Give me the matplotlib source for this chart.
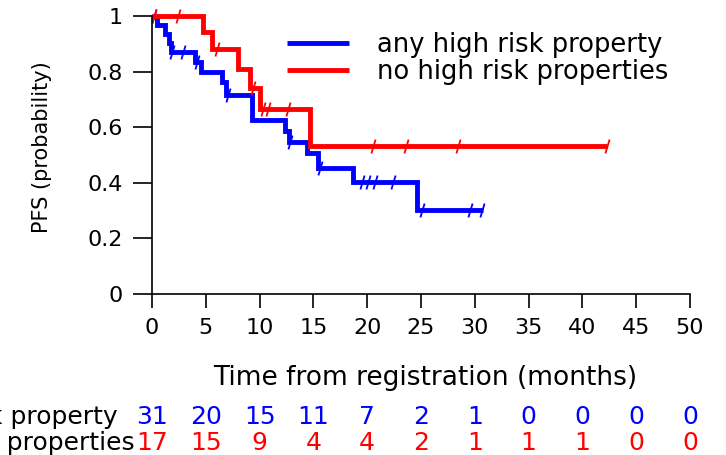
import matplotlib
matplotlib.use("Agg")
import matplotlib.pyplot as plt
import numpy as np

# Kaplan-Meier steps (time in months, PFS probability).
blue_times = [0, 0.5, 1.2, 1.6, 1.8, 4.0, 4.6, 6.5, 6.9, 9.3, 12.4, 12.7, 14.4, 15.4, 18.7, 24.6]
blue_surv = [1.0, 0.968, 0.935, 0.903, 0.871, 0.836, 0.80, 0.764, 0.716, 0.626, 0.588, 0.548, 0.506, 0.453, 0.404, 0.302]
blue_end = 30.8
blue_cens = [0.2, 1.9, 2.9, 4.2, 7.1, 12.8, 15.6, 19.5, 20.1, 20.7, 22.4, 25.1, 29.6, 30.7]

red_times = [0, 4.7, 5.6, 8.0, 9.1, 10.0, 14.7]
red_surv = [1.0, 0.941, 0.882, 0.809, 0.74, 0.666, 0.533]
red_end = 42.3
red_cens = [0.2, 2.4, 6.0, 9.4, 10.3, 10.8, 12.6, 20.5, 23.6, 28.4, 42.3]

labels = ["any high risk property", "no high risk properties"]
risk_times = [0, 5, 10, 15, 20, 25, 30, 35, 40, 45, 50]
blue_risk = [31, 20, 15, 11, 7, 2, 1, 0, 0, 0, 0]
red_risk = [17, 15, 9, 4, 4, 2, 1, 1, 1, 0, 0]

BLUE = "#0000FF"
RED = "#FF0000"

W, H = 726, 455
fig = plt.figure(figsize=(W / 100, H / 100), dpi=100)
ax = fig.add_axes([152 / W, 1 - 294 / H, 538 / W, 278 / H])


def step_at(times, surv, t):
    # level of the curve at time t
    idx = np.searchsorted(times, t, side="right") - 1
    return surv[idx]


tick_marker = [(-0.3, -1), (0.3, 1)]

for times, surv, end, cens, col, lab in [
    (blue_times, blue_surv, blue_end, blue_cens, BLUE, labels[0]),
    (red_times, red_surv, red_end, red_cens, RED, labels[1]),
]:
    xs = list(times) + [end]
    ys = list(surv) + [surv[-1]]
    ax.step(xs, ys, where="post", color=col, lw=3.5, label=lab,
            solid_joinstyle="miter", solid_capstyle="butt", clip_on=False)
    cy = [step_at(np.array(times), surv, c) for c in cens]
    ax.plot(cens, cy, ls="none", marker=tick_marker, ms=10, mew=1.3,
            color=col, clip_on=False)

ax.set_xlim(0, 50)
ax.set_ylim(0, 1)
ax.set_xticks(risk_times)
ax.set_yticks([0, 0.2, 0.4, 0.6, 0.8, 1])
ax.set_yticklabels(["0", "0.2", "0.4", "0.6", "0.8", "1"])
for s in ["top", "right"]:
    ax.spines[s].set_visible(False)
for s in ["left", "bottom"]:
    ax.spines[s].set_linewidth(1.2)
ax.tick_params(axis="x", length=10, width=1.2, pad=7, labelsize=16)
ax.tick_params(axis="y", length=14, width=1.2, pad=7, labelsize=16)

fig.text(425 / W, 1 - 378 / H, "Time from registration (months)",
         ha="center", va="center", fontsize=19)
fig.text(42 / W, 1 - 147 / H, "PFS (probability)", rotation=90,
         ha="center", va="center", fontsize=15)

leg = ax.legend(loc="upper left", bbox_to_anchor=(287 / W, 1 - 32 / H),
                bbox_transform=fig.transFigure, frameon=False, fontsize=18.5,
                handlelength=2.4, handletextpad=1.1, labelspacing=0.05,
                borderpad=0, borderaxespad=0)

# numbers at risk
tr = ax.get_xaxis_transform()
for vals, col, y, lab, lx in [(blue_risk, BLUE, -0.442, labels[0], -3.2),
                              (red_risk, RED, -0.536, labels[1], -1.6)]:
    for t, v in zip(risk_times, vals):
        ax.text(t, y, str(v), color=col, ha="center", va="center",
                fontsize=18, transform=tr, clip_on=False)
    ax.text(lx, y, lab, color="black", ha="right", va="center",
            fontsize=18, transform=tr, clip_on=False)

fig.savefig("out.png", dpi=100)
